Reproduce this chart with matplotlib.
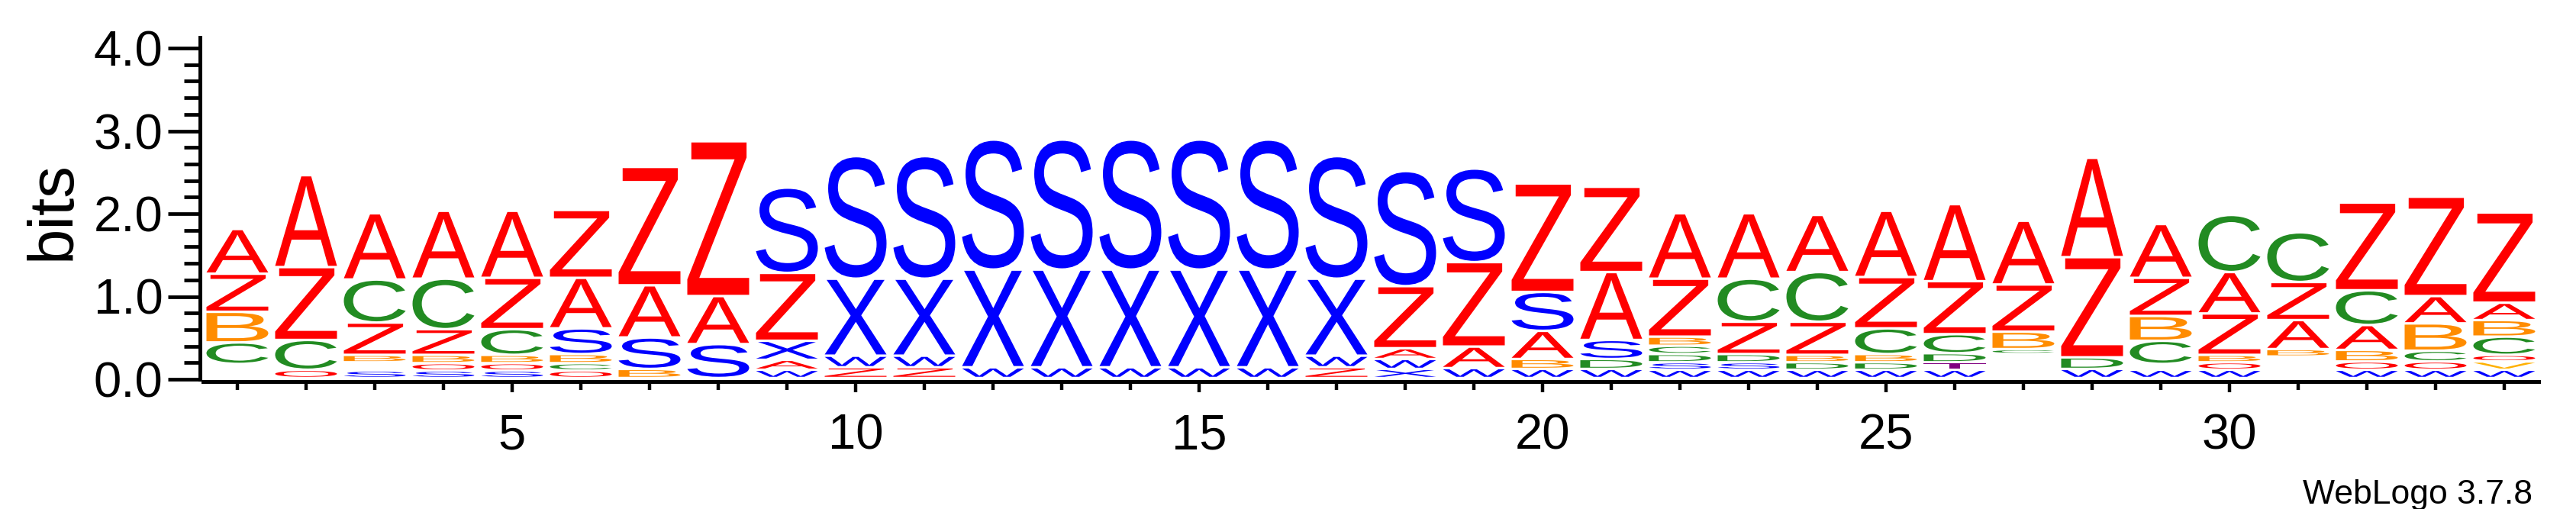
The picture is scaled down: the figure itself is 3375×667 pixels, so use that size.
import numpy as np
import matplotlib
matplotlib.use('Agg')
from matplotlib import pyplot as plt
from matplotlib.textpath import TextPath
from matplotlib.patches import PathPatch
from matplotlib.font_manager import FontProperties
from matplotlib.transforms import Affine2D

plt.rcParams['font.family'] = ['Liberation Sans', 'DejaVu Sans']

# positions 1..34, letters stacked bottom -> top, heights in bits
# ' ' = tiny unreadable glyphs at the bottom of a stack
positions = np.arange(1, 35)
stack_letters = [
    " CBZA", "OCZA", "S BZCA", "SOBZCA", "SOBCZA", "OCBSAZ", "BSAZ", "SAZ",
    "WAXZS", "ZWXS", "ZWXS", "WXS", "WXS", "WXS", "WXS", "WXS", "ZWXS",
    "XWAZS", "WAZS", "WBASZ", "WDSAZ", "WSDCBZA", "WSDZCA", "WDBZCA",
    "WDBCZA", "WTDCZA", " CBZA", "WDZA", "W CBZA", "WOBZAC", " BAZC",
    "WOBACZ", "WOCBAZ", "WVOCBAZ",
]
stack_heights = [
    [.17, .26, .37, .46, .54],
    [.10, .36, .88, 1.11],
    [.09, .10, .09, .39, .52, .80],
    [.09, .09, .10, .31, .61, .82],
    [.09, .09, .10, .31, .62, .81],
    [.09, .09, .11, .31, .61, .82],
    [.11, .38, .63, 1.43],
    [.41, .58, 1.87],
    [.10, .12, .23, .82, 1.03],
    [.13, .14, .93, 1.48],
    [.13, .14, .93, 1.48],
    [.13, 1.18, 1.57],
    [.13, 1.18, 1.57],
    [.13, 1.18, 1.57],
    [.13, 1.18, 1.57],
    [.13, 1.18, 1.57],
    [.13, .14, .93, 1.48],
    [.11, .12, .13, .75, 1.39],
    [.12, .26, 1.02, 1.13],
    [.11, .12, .34, .47, 1.31],
    [.11, .12, .23, .82, 1.03],
    [.10, .09, .10, .10, .11, .70, .79],
    [.10, .09, .10, .39, .52, .79],
    [.10, .09, .09, .40, .60, .69],
    [.10, .09, .10, .31, .62, .80],
    [.10, .09, .11, .23, .64, .93],
    [.29, .06, .21, .57, .77],
    [.11, .14, 1.21, 1.20],
    [.10, .07, .28, .30, .46, .65],
    [.10, .09, .09, .50, .50, .69],
    [.26, .09, .35, .46, .60],
    [.10, .10, .14, .30, .42, 1.06],
    [.10, .10, .13, .33, .33, 1.20],
    [.10, .10, .08, .22, .20, .21, 1.09],
]

letter_colors = {
    'A': '#ff0000', 'Z': '#ff0000', 'O': '#ff0000',
    'C': '#228b22', 'D': '#228b22',
    'B': '#ff8c00', 'V': '#ffb000',
    'S': '#0000ff', 'X': '#0000ff', 'W': '#0000ff',
    'T': '#800080',
}

glyph_font = FontProperties(family='Liberation Sans')


def draw_letter(ax, ch, x, y, w, h, color):
    tp = TextPath((0, 0), ch, size=1, prop=glyph_font)
    bb = tp.get_extents()
    tr = Affine2D().translate(-bb.x0, -bb.y0) \
        .scale(w / bb.width, h / bb.height).translate(x - w / 2, y)
    ax.add_patch(PathPatch(tr.transform_path(tp), facecolor=color,
                           edgecolor='none', lw=0))


W, H = 3375, 667
fig = plt.figure(figsize=(W / 100, H / 100), dpi=100)
ymax = 4.13
px_bit = 108.5
ax = fig.add_axes([266 / W, (H - 497) / H, 3060 / W, ymax * px_bit / H])

gap = 0.03
for pos, letters, heights in zip(positions, stack_letters, stack_heights):
    y = 0.0
    for ch, h in zip(letters, heights):
        if ch != ' ':
            draw_letter(ax, ch, pos, y + gap, 0.9, h - gap, letter_colors[ch])
        y += h

ax.set_xlim(0.5, 34.5)
ax.set_ylim(0, ymax)

for s in ['top', 'right']:
    ax.spines[s].set_visible(False)
ax.spines['left'].set_position(('outward', 2.9))
ax.spines['bottom'].set_position(('outward', 2.2))
ax.spines['left'].set_linewidth(3.6)
ax.spines['bottom'].set_linewidth(3.6)

ax.set_yticks([0, 1, 2, 3, 4])
ax.set_yticklabels(['0.0', '1.0', '2.0', '3.0', '4.0'])
ax.set_yticks(np.arange(0, 4.01, 0.2), minor=True)
ax.set_xticks([5, 10, 15, 20, 25, 30])
ax.set_xticks(positions, minor=True)

ax.tick_params(axis='y', which='major', direction='out', length=30, width=3.4,
               labelsize=47, pad=5)
ax.tick_params(axis='y', which='minor', direction='out', length=15, width=3.4)
ax.tick_params(axis='x', which='major', direction='out', length=10, width=3.2,
               labelsize=47, pad=20)
ax.tick_params(axis='x', which='minor', direction='out', length=7.7, width=3.2)

fig.text(70 / W, (H - 276) / H, 'bits', rotation=90, ha='center',
         va='center', fontsize=60)
fig.text(3318 / W, (H - 660) / H, 'WebLogo 3.7.8', ha='right',
         va='baseline', fontsize=32)

fig.savefig('out.png', dpi=100)
